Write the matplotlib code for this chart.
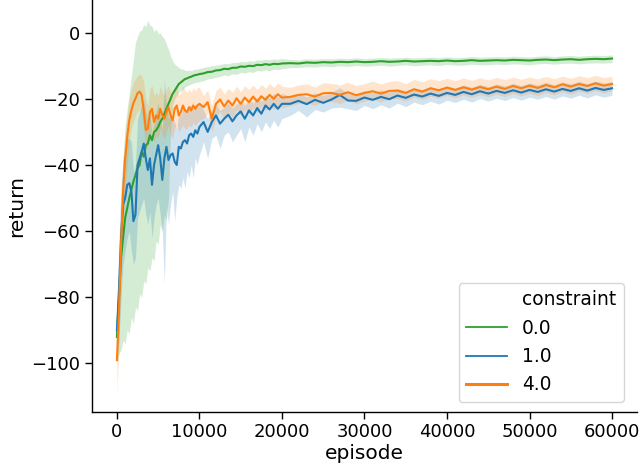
import matplotlib
matplotlib.use("Agg")
import matplotlib.pyplot as plt
from matplotlib.lines import Line2D
import numpy as np

# episode sampling grid
episodes = list(range(0, 10001, 250)) + list(range(10500, 20001, 500)) + list(range(21000, 60001, 1000))

constraints = ["0.0", "1.0", "4.0"]
colors = ["#2ca02c", "#1f77b4", "#ff7f0e"]

# ---- constraint 0.0 (green) ----
green_mean = [
    -92, -80, -68, -62, -56, -53, -50, -47.5, -45, -43,
    -41, -40, -36, -37.5, -34, -33.5, -31, -32.5, -30, -29.5,
    -28.5, -27, -26, -24.5, -23, -21.5, -20, -18.5, -17.5, -16.5,
    -15.5, -15, -14.5, -14, -13.8, -13.5, -13.3, -13, -12.8, -12.7, -12.5,
    -12.3, -11.9, -11.8, -11.4, -11.3, -10.9, -11.0, -10.6, -10.6, -10.2,
    -10.3, -10.0, -10.1, -9.7, -9.8, -9.5, -9.7, -9.4, -9.5, -9.3,
    -9.2, -9.3, -9.0, -9.1, -8.9, -9.0, -8.8, -8.9, -8.7, -8.9,
    -8.8, -8.6, -8.8, -8.7, -8.5, -8.7, -8.6, -8.5, -8.6, -8.4,
    -8.6, -8.5, -8.3, -8.5, -8.4, -8.3, -8.4, -8.2, -8.3, -8.4,
    -8.2, -8.1, -8.3, -8.1, -8.0, -8.2, -8.0, -7.9, -8.0, -7.8,
]
green_lo = [
    -100, -97, -96, -93, -94, -90, -91, -86, -88, -83,
    -84, -79, -80, -75, -76, -71, -72, -68, -69, -63,
    -64, -58, -60, -55, -57, -50, -30, -22, -20, -19,
    -18, -17.5, -17, -16.5, -16, -15.8, -15.5, -15.3, -15, -15, -14.8,
    -14.5, -14.0, -13.8, -13.5, -13.2, -12.8, -13.0, -12.4, -12.6, -12.0,
    -12.2, -11.8, -12.0, -11.4, -11.6, -11.2, -11.5, -11.0, -11.2, -10.9,
    -10.6, -10.5, -10.3, -10.4, -10.1, -10.3, -10.0, -10.2, -9.9, -10.1,
    -10.0, -9.8, -10.1, -9.9, -9.7, -10.0, -9.8, -9.7, -9.9, -9.6,
    -9.8, -9.8, -9.5, -9.7, -9.7, -9.5, -9.6, -9.4, -9.5, -9.7,
    -9.4, -9.3, -9.5, -9.3, -9.2, -9.4, -9.2, -9.1, -9.2, -9.0,
]
green_hi = [
    -85, -70, -50, -38, -28, -23, -18, -13, -8, -3,
    -1, 0.5, 0.8, 2.5, 1.8, 3.8, 2.2, 2.0, 0.3, 1.2,
    -0.2, 0, -1.2, -1.8, -3.5, -5, -7, -8.5, -9.5, -10,
    -10.5, -11, -11, -11.3, -11.5, -11.3, -11.5, -11.2, -11, -11, -10.8,
    -10.5, -10.2, -10.0, -9.8, -9.6, -9.3, -9.4, -9.0, -9.0, -8.7,
    -8.8, -8.5, -8.6, -8.2, -8.3, -8.0, -8.2, -7.9, -8.0, -7.8,
    -8.1, -8.2, -7.9, -8.0, -7.8, -7.9, -7.7, -7.8, -7.6, -7.8,
    -7.7, -7.5, -7.7, -7.6, -7.4, -7.6, -7.5, -7.4, -7.5, -7.3,
    -7.5, -7.4, -7.2, -7.4, -7.3, -7.2, -7.3, -7.1, -7.2, -7.3,
    -7.1, -7.0, -7.2, -7.0, -6.9, -7.1, -6.9, -6.8, -6.9, -6.7,
]

# ---- constraint 1.0 (blue) ----
blue_mean = [
    -90, -78, -62, -52, -50, -46, -45.5, -48, -57, -55,
    -40, -38, -36, -33.5, -38, -41.5, -38, -46, -40, -37,
    -34, -38, -44.5, -38, -34.5, -38.5, -37, -36.5, -39, -40,
    -34.5, -35, -33, -32.5, -33.5, -31, -30.5, -31.5, -29.5, -30.5, -28.5,
    -27.0, -30.0, -27.0, -25.0, -27.5, -26.0, -24.8, -26.8, -25.0, -23.8,
    -26.0, -23.5, -25.0, -22.8, -24.5, -22.0, -23.2, -21.5, -23.0, -21.5,
    -21.5, -20.6, -21.6, -20.3, -21.2, -20.2, -18.8, -20.5, -20.6, -19.6,
    -20.3, -19.4, -20.1, -19.0, -19.7, -18.7, -19.3, -18.4, -19.1, -18.2,
    -18.8, -17.9, -18.6, -17.7, -18.4, -17.6, -18.2, -17.4, -18.1, -17.3,
    -17.9, -17.1, -17.8, -17.0, -17.6, -16.8, -17.5, -16.7, -17.3, -16.8,
]
blue_lo = [
    -100, -92, -80, -70, -66, -62, -60, -66, -70, -68,
    -56, -54, -52, -50, -55, -58, -54, -62, -56, -52,
    -50, -55, -60, -76, -52, -58, -52, -48, -57, -50,
    -46, -47, -44, -47, -42, -44, -40, -44, -38, -40, -37,
    -33, -38, -32, -31, -35, -31, -30, -33, -31, -29,
    -33, -28.5, -31, -27.5, -30, -27, -29, -26.5, -28.5, -26,
    -25, -23.5, -25.5, -23.2, -24, -22.8, -22.5, -23, -23.5, -22.0,
    -23.0, -21.8, -22.8, -21.3, -22.4, -21.0, -21.8, -20.7, -21.6, -20.4,
    -21.1, -20.1, -21.0, -19.9, -20.7, -19.8, -20.5, -19.6, -20.4, -19.5,
    -20.1, -19.3, -20.1, -19.1, -19.8, -18.9, -19.7, -18.8, -19.5, -18.9,
]
blue_hi = [
    -82, -62, -46, -38, -36, -32, -32, -33, -42, -40,
    -26, -24, -22, -20, -24, -27, -24, -32, -27, -24,
    -21, -25, -30, -14, -22, -26, -25, -25, -27, -29,
    -24, -25, -23, -23, -24, -22, -22, -23, -21.5, -22.5, -21,
    -23.5, -26, -23.5, -21.5, -23.5, -22.5, -21.3, -22.8, -21.5, -20.5,
    -22, -20, -21.3, -19.5, -20.8, -18.8, -19.7, -18.3, -19.5, -18.3,
    -19.3, -18.4, -19.4, -18.2, -19.0, -18.1, -16.6, -18.4, -18.5, -17.5,
    -18.2, -17.3, -18.0, -16.9, -17.6, -16.6, -17.2, -16.3, -17.0, -16.1,
    -16.7, -15.8, -16.5, -15.6, -16.3, -15.5, -16.1, -15.3, -16.0, -15.2,
    -15.8, -15.0, -15.7, -14.9, -15.5, -14.7, -15.4, -14.6, -15.2, -14.8,
]

# ---- constraint 4.0 (orange) ----
orange_mean = [
    -99, -84, -64, -48, -38, -31.5, -26.5, -23.5, -21.3, -19.9,
    -18.3, -17.8, -18.8, -23.4, -29.4, -29, -24, -23, -27, -25,
    -26, -23, -25, -26, -24, -22.5, -25, -26.5, -23, -22,
    -25, -24, -22, -23.5, -24, -22.5, -23.5, -22, -23, -22, -21.5,
    -22.5, -21.0, -26.0, -21.5, -20.2, -22.3, -20.5, -22.0, -19.8, -21.5,
    -19.6, -21.0, -19.3, -20.8, -19.2, -20.3, -18.8, -20.0, -18.6, -19.6,
    -19.4, -18.8, -18.6, -19.3, -18.3, -18.2, -18.8, -18.0, -18.9, -18.2,
    -17.7, -18.4, -17.6, -17.5, -18.2, -17.1, -17.8, -16.8, -17.4, -16.6,
    -17.3, -16.5, -17.2, -16.4, -17.1, -16.3, -17.0, -16.1, -16.8, -16.0,
    -16.7, -15.8, -16.5, -15.6, -16.3, -15.5, -16.1, -15.3, -16.0, -15.5,
]
orange_lo = [
    -109, -95, -75, -58, -47, -40, -33, -29, -27, -25,
    -24, -23, -25, -29, -35, -35, -30, -30, -33, -31,
    -32, -29, -31, -32, -30, -28, -31, -32, -29, -28,
    -30, -29, -28, -29, -29, -28, -28.5, -27, -28, -27, -26.5,
    -26, -24.5, -30, -25.5, -23.8, -26, -24, -25.8, -23.3, -25,
    -23, -24.5, -22.6, -24.2, -22.4, -23.6, -22, -23.3, -21.8, -22.8,
    -22.1, -21.4, -21.2, -22.0, -20.8, -20.8, -21.4, -20.4, -21.5, -20.7,
    -20.1, -20.9, -20.0, -19.9, -20.7, -19.5, -20.2, -19.2, -19.8, -19.0,
    -19.7, -18.8, -19.6, -18.7, -19.4, -18.6, -19.3, -18.4, -19.1, -18.3,
    -19.0, -18.1, -18.8, -17.8, -18.6, -17.7, -18.3, -17.5, -18.2, -17.6,
]
orange_hi = [
    -90, -72, -52, -38, -30, -25, -20, -17, -15, -14,
    -13, -12.5, -13, -15, -20, -22, -17, -16, -19, -18,
    -19, -16, -18, -19, -17, -16, -18, -20, -17, -16,
    -19, -18, -16, -17.5, -18, -17, -18, -16.5, -17.5, -16.5, -16.5,
    -19, -17.3, -22, -17.5, -16.5, -18.5, -16.8, -18, -16.2, -17.8,
    -16, -17.2, -15.8, -17.2, -15.6, -16.8, -15.3, -16.5, -15.2, -16.2,
    -16.5, -15.8, -15.5, -16.4, -15.1, -15.3, -15.8, -15.0, -16.0, -15.4,
    -14.6, -15.5, -14.7, -14.5, -15.4, -14.1, -14.8, -13.9, -14.5, -13.8,
    -14.5, -13.7, -14.4, -13.6, -14.3, -13.5, -14.2, -13.4, -14.1, -13.4,
    -14.0, -13.2, -13.9, -13.1, -13.8, -13.0, -13.6, -12.9, -13.6, -13.2,
]

series = [
    (green_mean, green_lo, green_hi),
    (blue_mean, blue_lo, blue_hi),
    (orange_mean, orange_lo, orange_hi),
]
for s in series:
    for arr in s:
        assert len(arr) == len(episodes), (len(arr), len(episodes))

plt.rcParams["font.family"] = "DejaVu Sans"
fig = plt.figure(figsize=(6.4, 4.71), dpi=100)
ax = fig.add_axes([0.144, 0.126, 0.851, 0.874])

x = np.array(episodes)
for (m, lo, hi), c in zip(series, colors):
    ax.fill_between(x, lo, hi, color=c, alpha=0.2, linewidth=0)
for (m, lo, hi), c in zip(series, colors):
    ax.plot(x, m, color=c, linewidth=1.5)

ax.set_xlim(-3000, 63000)
ax.set_ylim(-114.6, 9.9)
ax.set_xticks([0, 10000, 20000, 30000, 40000, 50000, 60000])
ax.set_yticks([0, -20, -40, -60, -80, -100])
ax.tick_params(labelsize=13.0, length=5, width=1.0)
ax.set_xlabel("episode", fontsize=14.5, labelpad=2)
ax.set_ylabel("return", fontsize=14.5)
for side in ["top", "right"]:
    ax.spines[side].set_visible(False)
for side in ["left", "bottom"]:
    ax.spines[side].set_linewidth(1.0)

handles = [Line2D([], [], color="none"),
           Line2D([], [], color=colors[0], linewidth=1.3),
           Line2D([], [], color=colors[1], linewidth=1.3),
           Line2D([], [], color=colors[2], linewidth=2.2)]
labels = ["constraint"] + constraints
ax.legend(handles, labels, loc="lower right", fontsize=13.4, frameon=True,
          handlelength=2.2, borderaxespad=0.0, bbox_to_anchor=(0.976, 0.024))

fig.savefig("out.png", dpi=100)
